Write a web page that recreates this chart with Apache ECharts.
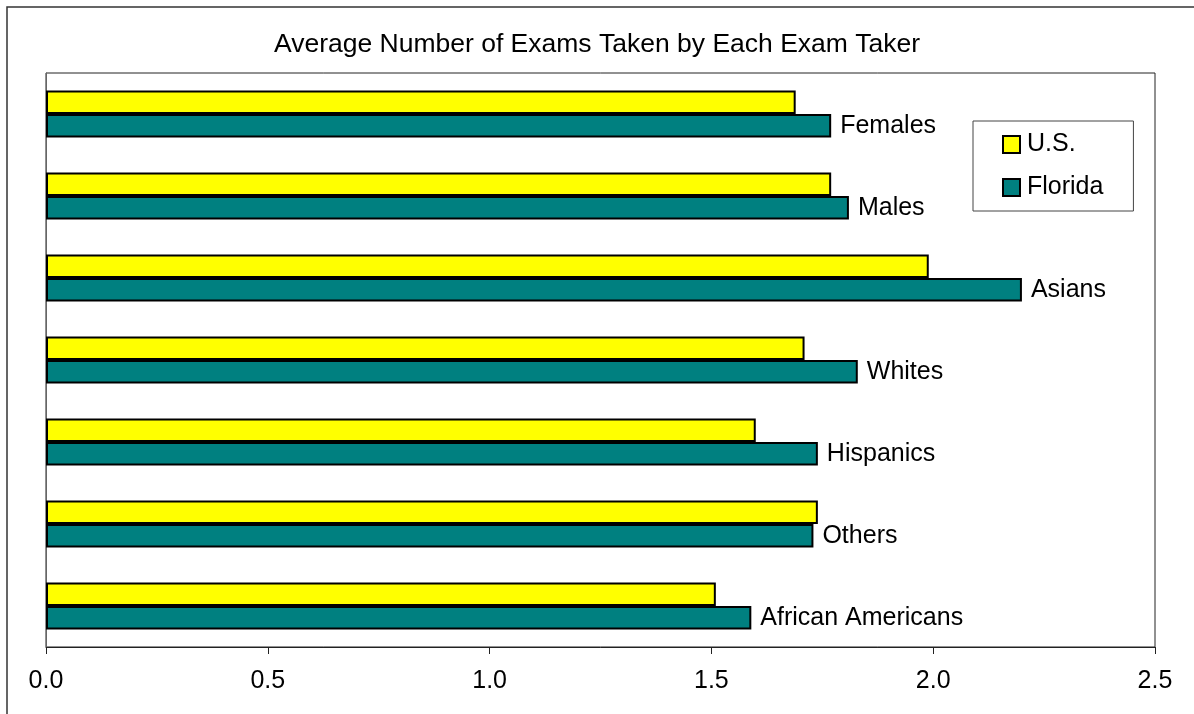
<!DOCTYPE html>
<html>
<head>
<meta charset="utf-8">
<title>Average Number of Exams Taken by Each Exam Taker</title>
<script src="https://cdn.jsdelivr.net/npm/echarts@6/dist/echarts.min.js"></script>
<style>
  html, body { margin: 0; padding: 0; background: #fff; }
  #chart { width: 1194px; height: 714px; }
</style>
</head>
<body>
<div id="chart"></div>
<script>
// data
const groups = ['Females', 'Males', 'Asians', 'Whites', 'Hispanics', 'Others', 'African Americans'];
const usValues = [1.69, 1.77, 1.99, 1.71, 1.60, 1.74, 1.51];
const floridaValues = [1.77, 1.81, 2.20, 1.83, 1.74, 1.73, 1.59];
const seriesNames = ['U.S.', 'Florida'];
const tickLabels = ['0.0', '0.5', '1.0', '1.5', '2.0', '2.5'];

const FONT = 'Liberation Sans, Arial, sans-serif';

const chart = echarts.init(document.getElementById('chart'), null, { renderer: 'canvas' });

const option = {
  backgroundColor: '#fff',
  animation: false,
  textStyle: { fontFamily: FONT, color: '#000' },
  title: {
    text: 'Average Number of Exams Taken by Each Exam Taker',
    left: 'center',
    top: 26,
    textStyle: { fontFamily: FONT, fontSize: 26.5, fontWeight: 'normal', color: '#000' }
  },
  // outer frame of the chart (right and bottom edges fall outside the picture)
  graphic: [{
    type: 'rect',
    shape: { x: 7, y: 7, width: 1250, height: 760 },
    style: { fill: null, stroke: '#333', lineWidth: 1.5 },
    silent: true
  }],
  legend: {
    data: seriesNames,
    orient: 'vertical',
    left: 973,
    top: 121,
    padding: [11, 30, 11, 29],
    itemGap: 18,
    itemWidth: 17,
    itemHeight: 17,
    borderColor: '#444',
    borderWidth: 1,
    backgroundColor: '#fff',
    icon: 'rect',
    itemStyle: { borderColor: '#000', borderWidth: 2 },
    textStyle: { fontFamily: FONT, fontSize: 25, color: '#000', padding: [2, 0, 0, 2] }
  },
  grid: {
    left: 46, top: 73, right: 39, bottom: 67,
    show: true,
    borderColor: '#222',
    borderWidth: 1,
    containLabel: false
  },
  xAxis: {
    type: 'value',
    min: 0,
    max: 2.5,
    interval: 0.5,
    axisLine: { show: true, lineStyle: { color: '#222', width: 1 } },
    axisTick: { show: true, inside: false, length: 7, lineStyle: { color: '#222' } },
    splitLine: { show: false },
    axisLabel: {
      margin: 22,
      fontFamily: FONT,
      fontSize: 25,
      color: '#000',
      formatter: v => tickLabels[Math.round(v / 0.5)]
    }
  },
  yAxis: {
    type: 'category',
    data: groups,
    inverse: true,
    axisLine: { show: true, lineStyle: { color: '#666', width: 1 } },
    axisTick: { show: false },
    axisLabel: { show: false },
    splitLine: { show: false }
  },
  series: [
    {
      name: seriesNames[0],
      type: 'bar',
      data: usValues,
      barWidth: 23.5,
      barGap: '0%',
      itemStyle: { color: '#FFFF00', borderColor: '#000', borderWidth: 2 }
    },
    {
      name: seriesNames[1],
      type: 'bar',
      data: floridaValues,
      barWidth: 23.5,
      barGap: '0%',
      itemStyle: { color: '#008080', borderColor: '#000', borderWidth: 2 },
      label: {
        show: true,
        position: 'right',
        distance: 9,
        formatter: '{b}',
        fontFamily: FONT,
        fontSize: 25,
        color: '#000'
      }
    }
  ]
};

chart.setOption(option);
window.addEventListener('resize', () => chart.resize());
</script>
</body>
</html>
